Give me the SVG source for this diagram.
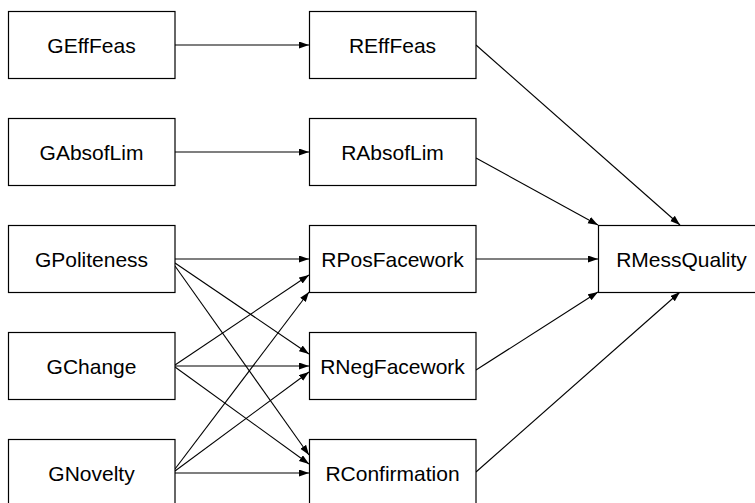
<svg xmlns="http://www.w3.org/2000/svg" width="755" height="503" viewBox="0 0 755 503">
<defs>
<marker id="ah" markerUnits="userSpaceOnUse" markerWidth="11" markerHeight="8" refX="10" refY="3.5" orient="auto">
<path d="M0,0 L10,3.5 L0,7 z" fill="#000"/>
</marker>
<style>
.n rect{fill:#fff;stroke:#000;stroke-width:1.2}
.n text{font-family:"Liberation Sans",Arial,sans-serif;font-size:21px;fill:#000;text-anchor:middle}
#edges path{fill:none;stroke:#000;stroke-width:1.1;marker-end:url(#ah)}
</style>
</defs>
<rect width="755" height="503" fill="#fff"/>
<g id="edges">
<path d="M175,45 L309,45"/>
<path d="M175,152 L309,152"/>
<path d="M175,259 L309,259"/>
<path d="M175,263 L309,354"/>
<path d="M175,266 L309,455"/>
<path d="M175,365 L309,275"/>
<path d="M175,366 L309,366"/>
<path d="M175,367 L309,464"/>
<path d="M175,469 L309,292"/>
<path d="M175,471 L309,372"/>
<path d="M175,473 L309,473"/>
<path d="M476,45 L680,225"/>
<path d="M476,158 L598,225"/>
<path d="M476,259 L598,259"/>
<path d="M476,370 L598,292"/>
<path d="M476,472 L680,292"/>
</g>
<g id="GEffFeas" class="n"><rect x="8.5" y="11.5" width="166.5" height="67"/><text x="91.5" y="52.5">GEffFeas</text></g>
<g id="GAbsofLim" class="n"><rect x="8.5" y="118.5" width="166.5" height="67"/><text x="91.5" y="159.5">GAbsofLim</text></g>
<g id="GPoliteness" class="n"><rect x="8.5" y="225.5" width="166.5" height="67"/><text x="91.5" y="266.5">GPoliteness</text></g>
<g id="GChange" class="n"><rect x="8.5" y="332.5" width="166.5" height="67"/><text x="91.5" y="373.5">GChange</text></g>
<g id="GNovelty" class="n"><rect x="8.5" y="439.5" width="166.5" height="67"/><text x="91.5" y="480.5">GNovelty</text></g>
<g id="REffFeas" class="n"><rect x="309.5" y="11.5" width="166.5" height="67"/><text x="392.5" y="52.5">REffFeas</text></g>
<g id="RAbsofLim" class="n"><rect x="309.5" y="118.5" width="166.5" height="67"/><text x="392.5" y="159.5">RAbsofLim</text></g>
<g id="RPosFacework" class="n"><rect x="309.5" y="225.5" width="166.5" height="67"/><text x="392.5" y="266.5">RPosFacework</text></g>
<g id="RNegFacework" class="n"><rect x="309.5" y="332.5" width="166.5" height="67"/><text x="392.5" y="373.5">RNegFacework</text></g>
<g id="RConfirmation" class="n"><rect x="309.5" y="439.5" width="166.5" height="67"/><text x="392.5" y="480.5">RConfirmation</text></g>
<g id="RMessQuality" class="n"><rect x="598.5" y="225.5" width="166.5" height="67"/><text x="681.5" y="266.5">RMessQuality</text></g>
</svg>
